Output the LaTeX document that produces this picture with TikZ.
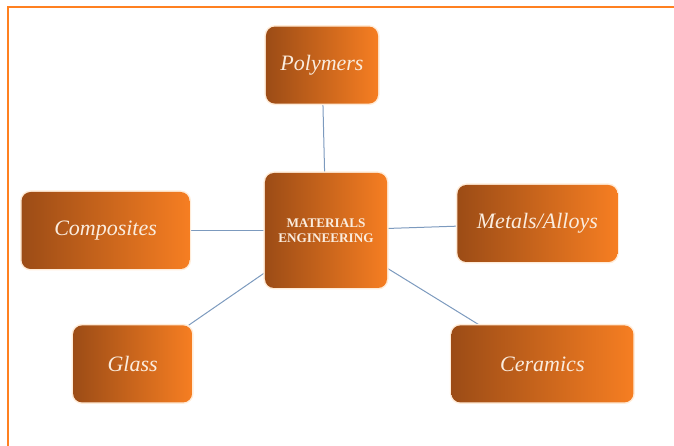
\documentclass[tikz,border=0pt]{standalone}
\usepackage{fontspec}
\setmainfont{Liberation Serif}
\usetikzlibrary{positioning,backgrounds}
\definecolor{boxdark}{RGB}{156,76,22}
\definecolor{boxlight}{RGB}{246,126,34}
\definecolor{txtcream}{RGB}{250,236,222}
\definecolor{linkblue}{RGB}{124,154,190}
\definecolor{frameorange}{RGB}{255,128,32}

\begin{document}
\begin{tikzpicture}[
  x=1pt,y=1pt,
  mat/.style={rounded corners=9pt,left color=boxdark,right color=boxlight,minimum height=77pt,inner sep=2pt,align=center,text=txtcream,font=\fontsize{22}{26}\selectfont\itshape,preaction={draw=orange!15,line width=3pt}},
  hub/.style={mat,minimum width=122pt,minimum height=115pt,font=\fontsize{13.2}{15.5}\selectfont\bfseries},
  link/.style={draw=linkblue,line width=1pt},
]
\useasboundingbox (-326,-215.5) rectangle (348,230.5);

% centre and the five material classes
\node[hub] (mat) {MATERIALS\\ENGINEERING};
\node[mat,minimum width=112pt,above=69pt of mat,xshift=-4pt] (poly)  {Polymers};
\node[mat,minimum width=168pt,left=75pt of mat]              (comp)  {Composites};
\node[mat,minimum width=160pt,right=70pt of mat,yshift=7pt]  (metal) {Metals/Alloys};
\node[mat,minimum width=119pt,below=56pt of comp,xshift=27pt]  (glass) {Glass};
\node[mat,minimum width=182pt,below=63pt of metal,xshift=5pt]  (ceram) {Ceramics};

% spokes
\begin{scope}[on background layer]
  \foreach \n in {poly,comp,metal,glass,ceram}
    \draw[link] (mat) -- (\n);
\end{scope}

% page frame, top and left only
\draw[frameorange,line width=1.6pt] (-318,-215.5) -- (-318,223.5) -- (348,223.5);
\end{tikzpicture}
\end{document}
